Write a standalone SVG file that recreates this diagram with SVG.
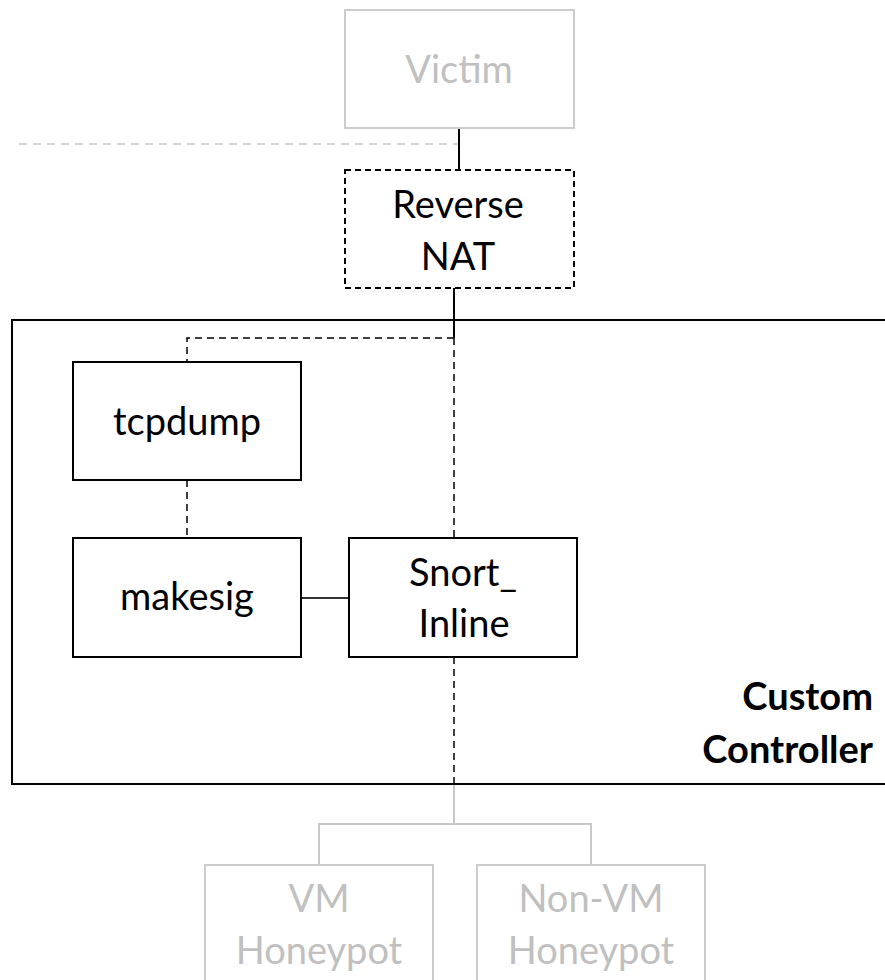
<svg xmlns="http://www.w3.org/2000/svg" width="885" height="980" viewBox="0 0 885 980">
<style>
.t{font-family:Lato,"Open Sans","Liberation Sans",sans-serif;font-size:38px;text-anchor:middle;fill:#000}
.g{fill:#c0c0c0}
.b{font-weight:bold;text-anchor:end}
.box{fill:#fff;stroke:#000;stroke-width:2}
.gbox{fill:#fff;stroke:#cccccc;stroke-width:2}
.dbox{fill:#fff;stroke:#000;stroke-width:2;stroke-dasharray:6 4}
.s{fill:none;stroke:#000;stroke-width:2}
.d{fill:none;stroke:#000;stroke-width:1.5;stroke-dasharray:7 5}
.gl{fill:none;stroke:#c8c8c8;stroke-width:2}
.gd{fill:none;stroke:#c8c8c8;stroke-width:1.5;stroke-dasharray:8 6}
</style>
<rect x="0" y="0" width="885" height="980" fill="#fff"/>
<g id="controller">
<rect x="12" y="320" width="880" height="464" class="box" fill="none"/>
<text class="t b" x="873" y="710">Custom</text>
<text class="t b" x="873" y="763">Controller</text>
</g>
<g id="connectors">
<line x1="19" y1="144" x2="459" y2="144" class="gd"/>
<line x1="459" y1="112" x2="459" y2="124" stroke="#c8c8c8" stroke-width="1.5"/>
<line x1="459" y1="128" x2="459" y2="170" class="s"/>
<line x1="454" y1="288" x2="454" y2="338" class="s"/>
<path d="M454 338 H187 V362" class="d"/>
<line x1="454" y1="338" x2="454" y2="538" class="d"/>
<line x1="187" y1="480" x2="187" y2="538" class="d"/>
<line x1="301" y1="598" x2="349" y2="598" stroke="#333" stroke-width="2"/>
<line x1="454" y1="657" x2="454" y2="784" class="d"/>
<line x1="454" y1="785" x2="454" y2="824" class="gl"/>
<path d="M319 865 V824 H591 V865" class="gl"/>
</g>
<g id="victim">
<rect x="345" y="10" width="229" height="118" class="gbox"/>
<text class="t g" x="459" y="83">Victim</text>
</g>
<g id="reverse-nat">
<rect x="345" y="170" width="229" height="118" class="dbox"/>
<text class="t" x="458" y="218">Reverse</text>
<text class="t" x="458" y="270">NAT</text>
</g>
<g id="tcpdump">
<rect x="73" y="362" width="228" height="118" class="box"/>
<text class="t" x="187" y="435">tcpdump</text>
</g>
<g id="makesig">
<rect x="73" y="538" width="228" height="119" class="box"/>
<text class="t" x="187" y="610">makesig</text>
</g>
<g id="snort-inline">
<rect x="349" y="538" width="228" height="119" class="box"/>
<text class="t" x="463" y="586">Snort_</text>
<text class="t" x="464" y="637">Inline</text>
</g>
<g id="vm-honeypot">
<rect x="205" y="865" width="228" height="130" class="gbox"/>
<text class="t g" x="319" y="912">VM</text>
<text class="t g" x="319" y="964">Honeypot</text>
</g>
<g id="non-vm-honeypot">
<rect x="477" y="865" width="228" height="130" class="gbox"/>
<text class="t g" x="591" y="912">Non-VM</text>
<text class="t g" x="591" y="964">Honeypot</text>
</g>
</svg>
